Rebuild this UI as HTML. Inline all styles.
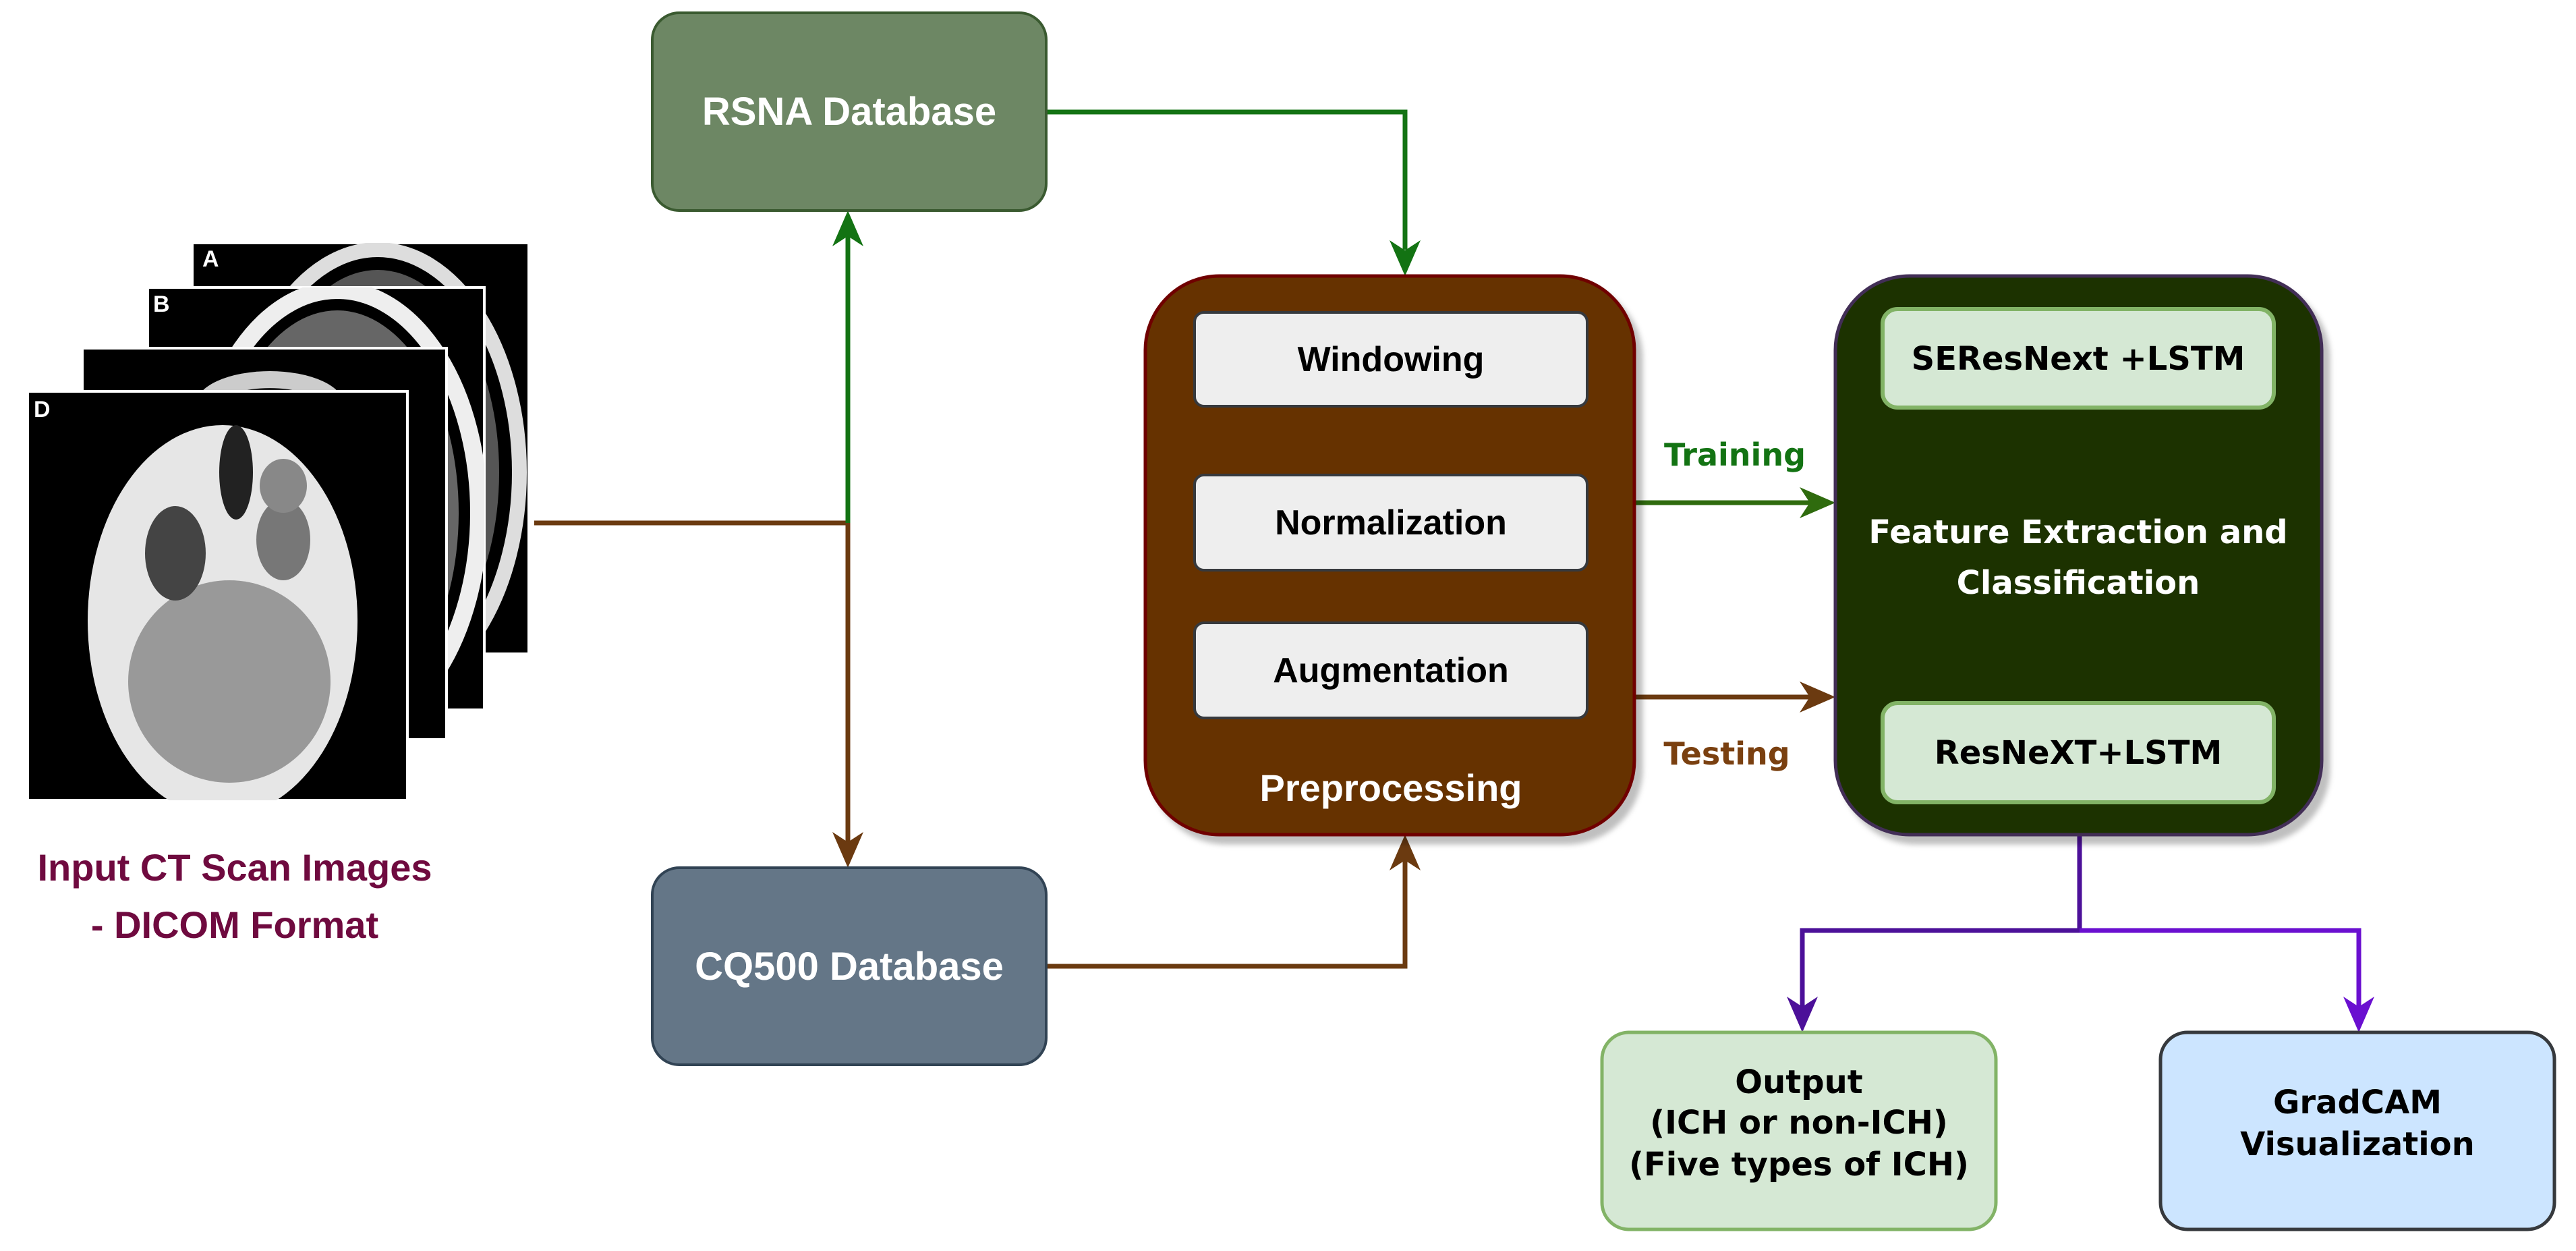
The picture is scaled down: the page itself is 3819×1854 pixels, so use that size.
<!DOCTYPE html>
<html><head><meta charset="utf-8"><style>
html,body{margin:0;padding:0;background:#fff;}
svg{display:block}
.n{font-family:"Liberation Sans Narrow","Liberation Sans",sans-serif;font-weight:bold}
.w{font-family:"DejaVu Sans","Liberation Sans",sans-serif;font-weight:bold}
</style></head><body>
<svg width="3819" height="1854" viewBox="0 0 3819 1854" xmlns="http://www.w3.org/2000/svg">
<defs>
<filter id="sh" x="-10%" y="-10%" width="130%" height="130%"><feDropShadow dx="10" dy="12" stdDeviation="4" flood-color="#000" flood-opacity="0.25"/></filter>
<clipPath id="cA"><rect x="285" y="360" width="499" height="609"/></clipPath>
<clipPath id="cB"><rect x="219" y="426" width="499" height="626"/></clipPath>
<clipPath id="cC"><rect x="122" y="516" width="540" height="580"/></clipPath>
<clipPath id="cD"><rect x="41" y="580" width="563" height="606"/></clipPath>
</defs>
<!-- CT stack -->
<rect x="285" y="360" width="499" height="609" fill="#000" stroke="#fff" stroke-width="4"/>
<g clip-path="url(#cA)">
<ellipse cx="560" cy="700" rx="210" ry="330" fill="none" stroke="#ddd" stroke-width="22"/>
<ellipse cx="560" cy="700" rx="180" ry="300" fill="#555"/>
</g>
<rect x="219" y="426" width="499" height="626" fill="#000" stroke="#fff" stroke-width="4"/>
<g clip-path="url(#cB)">
<ellipse cx="500" cy="760" rx="210" ry="330" fill="none" stroke="#eee" stroke-width="26"/>
<ellipse cx="500" cy="760" rx="180" ry="300" fill="#666"/>
</g>
<rect x="122" y="516" width="540" height="580" fill="#000" stroke="#fff" stroke-width="4"/>
<g clip-path="url(#cC)">
<ellipse cx="400" cy="600" rx="110" ry="50" fill="#ccc"/>
<ellipse cx="400" cy="600" rx="70" ry="25" fill="#222"/>
</g>
<rect x="41" y="580" width="563" height="606" fill="#000" stroke="#fff" stroke-width="4"/>
<g clip-path="url(#cD)">
<ellipse cx="330" cy="920" rx="200" ry="290" fill="#e6e6e6"/>
<ellipse cx="340" cy="1010" rx="150" ry="150" fill="#999"/>
<ellipse cx="260" cy="820" rx="45" ry="70" fill="#444"/>
<ellipse cx="420" cy="800" rx="40" ry="60" fill="#777"/>
<ellipse cx="420" cy="720" rx="35" ry="40" fill="#888"/>
<ellipse cx="350" cy="700" rx="25" ry="70" fill="#222"/>
</g>
<text x="300" y="395" class="n" font-size="34" fill="#fff">A</text>
<text x="227" y="462" class="n" font-size="34" fill="#fff">B</text>
<text x="50" y="618" class="n" font-size="34" fill="#fff">D</text>
<text x="348" y="1305" class="n" font-size="56" fill="#6f0a3f" text-anchor="middle">Input CT Scan Images</text>
<text x="348" y="1390" class="n" font-size="56" fill="#6f0a3f" text-anchor="middle">- DICOM Format</text>
<!-- connectors -->
<g fill="none" stroke-width="7">
<polyline points="792,775 1257,775 1257,1250" stroke="#6b3a10"/>
<polyline points="1257,775 1257,350" stroke="#137313"/>
<polyline points="1551,166 2083,166 2083,370" stroke="#137313"/>
<polyline points="1551,1432 2083,1432 2083,1275" stroke="#6b3a10"/>
<line x1="2423" y1="745" x2="2690" y2="745" stroke="#2f6b0e"/>
<line x1="2423" y1="1033" x2="2690" y2="1033" stroke="#6b3a10"/>
<polyline points="3083,1237 3083,1379 2672,1379 2672,1495" stroke="#4c1099"/>
<polyline points="3083,1379 3497,1379 3497,1495" stroke="#6a0fd0"/>
</g>
<g>
<polygon points="1257,312 1234,365 1257,350 1280,365" fill="#137313"/>
<polygon points="1257,1286 1234,1233 1257,1248 1280,1233" fill="#6b3a10"/>
<polygon points="2083,409 2060,356 2083,371 2106,356" fill="#137313"/>
<polygon points="2083,1237 2060,1290 2083,1275 2106,1290" fill="#6b3a10"/>
<polygon points="2721,745 2668,722 2683,745 2668,768" fill="#2f6b0e"/>
<polygon points="2721,1033 2668,1010 2683,1033 2668,1056" fill="#6b3a10"/>
<polygon points="2672,1530 2649,1477 2672,1492 2695,1477" fill="#4c1099"/>
<polygon points="3497,1530 3474,1477 3497,1492 3520,1477" fill="#6a0fd0"/>
</g>
<text x="2572" y="690" class="w" font-size="46" fill="#137313" text-anchor="middle">Training</text>
<text x="2560" y="1133" class="w" font-size="46" fill="#7a4010" text-anchor="middle">Testing</text>
<!-- RSNA / CQ500 -->
<rect x="967" y="19" width="584" height="293" rx="40" fill="#6d8764" stroke="#3a5a30" stroke-width="4"/>
<text x="1259" y="185" class="n" font-size="58" fill="#fff" text-anchor="middle">RSNA Database</text>
<rect x="967" y="1286" width="584" height="292" rx="40" fill="#647687" stroke="#314354" stroke-width="4"/>
<text x="1259" y="1452" class="n" font-size="58" fill="#fff" text-anchor="middle">CQ500 Database</text>
<!-- Preprocessing -->
<rect x="1698" y="409" width="725" height="828" rx="110" fill="#663300" stroke="#6f0000" stroke-width="5" filter="url(#sh)"/>
<g fill="#eeeeee" stroke="#36393d" stroke-width="4">
<rect x="1771" y="463" width="582" height="139" rx="14"/>
<rect x="1771" y="704" width="582" height="141" rx="14"/>
<rect x="1771" y="923" width="582" height="141" rx="14"/>
</g>
<g class="n" font-size="52" fill="#000" text-anchor="middle">
<text x="2062" y="550">Windowing</text>
<text x="2062" y="792">Normalization</text>
<text x="2062" y="1011">Augmentation</text>
</g>
<text x="2062" y="1187" class="n" font-size="56" fill="#fff" text-anchor="middle">Preprocessing</text>
<!-- Feature -->
<rect x="2721" y="409" width="721" height="828" rx="110" fill="#1e3303" stroke="#432d57" stroke-width="5" filter="url(#sh)"/>
<rect x="2791" y="458" width="580" height="146" rx="22" fill="#d5e8d4" stroke="#82b366" stroke-width="6"/>
<rect x="2791" y="1042" width="580" height="147" rx="22" fill="#d5e8d4" stroke="#82b366" stroke-width="6"/>
<g class="w" font-size="48" text-anchor="middle">
<text x="3081" y="548" fill="#000">SEResNext +LSTM</text>
<text x="3081" y="1132" fill="#000">ResNeXT+LSTM</text>
<text x="3081" y="805" fill="#fff">Feature Extraction and</text>
<text x="3081" y="880" fill="#fff">Classification</text>
</g>
<!-- outputs -->
<rect x="2375" y="1530" width="584" height="292" rx="40" fill="#d5e8d4" stroke="#82b366" stroke-width="5"/>
<rect x="3203" y="1530" width="584" height="292" rx="40" fill="#cce5ff" stroke="#36393d" stroke-width="5"/>
<g class="w" font-size="48" fill="#000" text-anchor="middle">
<text x="2667" y="1620">Output</text>
<text x="2667" y="1680">(ICH or non-ICH)</text>
<text x="2667" y="1742">(Five types of ICH)</text>
<text x="3495" y="1650">GradCAM</text>
<text x="3495" y="1712">Visualization</text>
</g>
</svg>
</body></html>
